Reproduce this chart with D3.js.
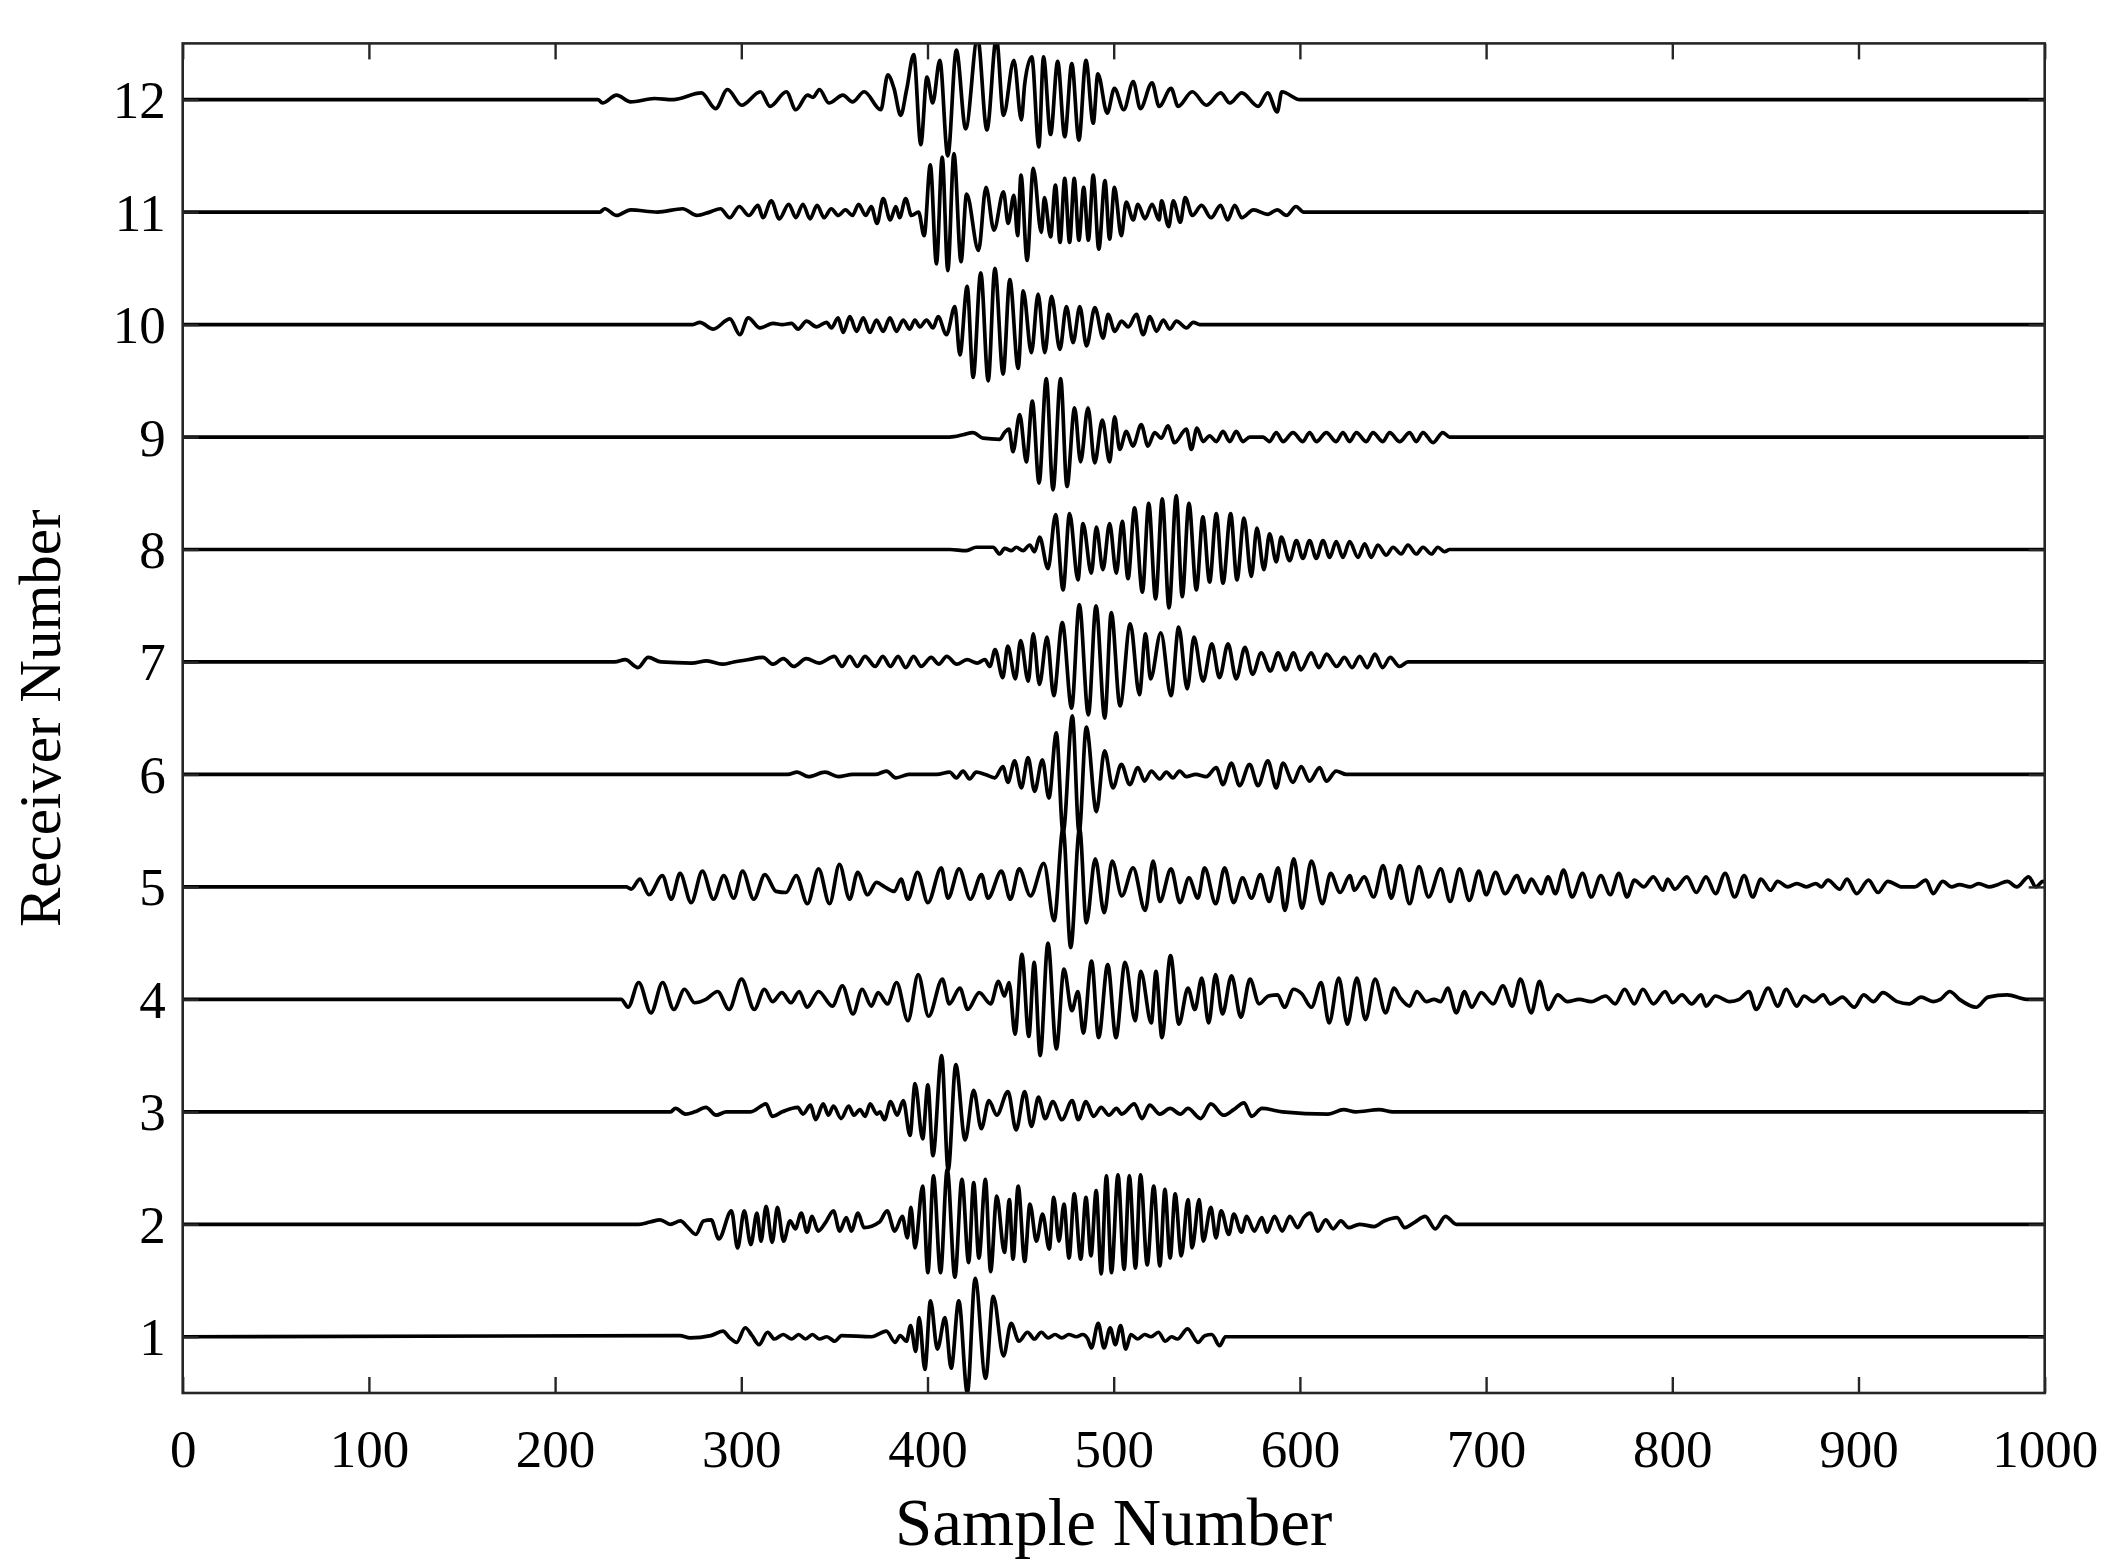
<!DOCTYPE html>
<html><head><meta charset="utf-8">
<script src="https://cdn.jsdelivr.net/npm/d3@7"></script>
<style>body{margin:0;background:#fff}svg{display:block}</style>
</head><body><svg id="c" width="2125" height="1568"></svg>
<script>
const receivers = [1,2,3,4,5,6,7,8,9,10,11,12];
const xTickValues = [0,100,200,300,400,500,600,700,800,900,1000];
const xLabel = "Sample Number";
const yLabel = "Receiver Number";

// each trace: [sample, amplitude (in receiver-spacing units)] at read extrema
const r1 = [[0,0],[267,0.01],[272.5,-0.01],[283.6,0.01],[290.1,0.05],[293.8,-0.01],[297.5,-0.05],[302.1,0.08],[305.8,0.01],[309.5,-0.07],[314.1,0.04],[317.8,-0.02],[322.5,0.02],[327.1,-0.02],[330.8,0.02],[334.5,-0.02],[338.2,0.02],[341.9,-0.02],[346,0],[350.2,-0.04],[353.9,0.01],[370,0],[377.9,0.05],[382.6,-0.05],[385.3,0.01],[388.7,-0.04],[390.9,0.10],[393.7,-0.13],[395.5,0.17],[398.6,-0.29],[401.6,0.32],[405.3,-0.11],[409.4,0.17],[412.7,-0.28],[416.8,0.32],[421.4,-0.50],[425.6,0.52],[431.2,-0.37],[435.3,0.36],[440.8,-0.17],[444.9,0.12],[449.1,-0.04],[453.7,0.04],[457.4,-0.02],[461.1,0.04],[464.8,-0.01],[468.5,0.02],[472.2,-0.01],[475.9,0.02],[480,0],[483.3,0.02],[486.1,-0.02],[488,-0.10],[491.7,0.12],[494.8,-0.10],[498.1,0.08],[500.9,-0.07],[503.7,0.10],[506.5,-0.11],[509.2,0.02],[512.9,-0.02],[516.6,0.02],[520,0],[524,0.04],[527.7,-0.04],[531,0],[534.2,-0.02],[539.7,0.07],[545.3,-0.05],[548.9,0.01],[552.7,0.02],[556.9,-0.08],[560,0],[1000,0]];
const r2 = [[0,0],[245,0],[250.9,0.02],[256.4,0.04],[261.9,0],[267.3,0.03],[271.4,-0.03],[275.6,-0.09],[279.7,0.03],[283.8,0.04],[287.9,-0.13],[294.7,0.12],[298,-0.21],[301.6,0.12],[305.1,-0.18],[308.4,0.10],[310.6,-0.15],[313.3,0.16],[316.6,-0.16],[319.4,0.15],[322.7,-0.15],[326.2,0.03],[329,-0.04],[332.2,0.10],[335.3,-0.07],[338,0.07],[341.3,-0.06],[345.4,0.02],[349.5,0.12],[352.8,-0.06],[356.4,0.06],[359.1,-0.06],[362.7,0.10],[365.9,-0.03],[374.2,0.02],[378.3,0.12],[382.4,-0.06],[386.5,0.07],[389.2,-0.12],[391.1,0.15],[393.3,-0.21],[397.4,0.34],[400.2,-0.43],[403.2,0.43],[407,-0.43],[410.6,0.49],[414.7,-0.47],[418.5,0.40],[422.1,-0.34],[424.8,0.37],[427.6,-0.30],[431.1,0.40],[433.9,-0.42],[437.2,0.25],[441.3,-0.25],[444,0.22],[445.9,-0.31],[448.7,0.34],[452.2,-0.33],[455,0.18],[458.5,-0.15],[461.8,0.09],[465.4,-0.22],[467.8,0.24],[470.6,-0.15],[473.3,0.18],[476,-0.30],[478.8,0.27],[482.3,-0.31],[485.1,0.24],[487.8,-0.28],[490.6,0.30],[493.3,-0.44],[496.1,0.43],[498.8,-0.43],[502.3,0.44],[505.6,-0.40],[508.4,0.43],[511.7,-0.39],[514.4,0.44],[518,-0.36],[521.5,0.34],[524.8,-0.37],[527.5,0.31],[530.3,-0.30],[533,0.27],[536.3,-0.28],[539.9,0.22],[542.1,-0.21],[545.9,0.22],[548.1,-0.15],[552.2,0.15],[554.9,-0.12],[557.7,0.12],[561.8,-0.09],[564.5,0.09],[568.6,-0.07],[571.4,0.07],[575.5,-0.06],[579.6,0.06],[582.3,-0.07],[586.4,0.07],[590.5,-0.06],[594.6,0.07],[598.8,-0.03],[602,0.06],[605.6,0.10],[609.7,-0.06],[613.8,0.04],[617.9,-0.04],[622,0.03],[626.2,-0.03],[632,0],[639.8,-0.02],[645.3,0.03],[652.2,0.06],[656.3,-0.03],[661.8,0.02],[667.3,0.07],[672.7,-0.04],[678.2,0.07],[684,0],[1000,0]];
const r3 = [[0,0],[262,0],[264.6,0.03],[270.1,-0.02],[275,0],[281,0.04],[286.5,-0.03],[292,0],[305,0],[313.3,0.07],[316.6,-0.04],[322,0],[330.3,0.04],[333.1,-0.02],[337.2,0.06],[339.9,-0.07],[344,0.07],[346.8,-0.03],[349.5,0.05],[353.6,-0.06],[357.7,0.05],[360.5,-0.03],[363.7,0.02],[366.5,-0.04],[369.2,0.07],[372.8,-0.02],[374.5,0],[376.9,-0.07],[380.2,0.09],[383.7,-0.03],[387,0.10],[390.6,-0.21],[393.3,0.25],[397.4,-0.24],[400.2,0.24],[402.9,-0.39],[407.6,0.50],[411.1,-0.52],[415.2,0.42],[420.2,-0.25],[424.8,0.19],[428.9,-0.15],[433,0.10],[437.2,-0.03],[443.2,0.18],[447.6,-0.16],[452.2,0.18],[455.8,-0.13],[459.6,0.13],[463.2,-0.06],[467.3,0.09],[472.2,-0.07],[477.7,0.10],[481,-0.07],[485.1,0.09],[489.2,-0.04],[493.3,0.04],[497.4,-0.03],[501.5,0.03],[504.3,-0.02],[511.1,0.07],[515.2,-0.06],[519.3,0.06],[524.8,-0.02],[530.3,0.03],[535.8,-0.02],[539.9,0.03],[546.7,-0.06],[552.2,0.07],[559,-0.03],[564.5,0.02],[570,0.08],[574.1,-0.04],[579.6,0.03],[590.5,0],[615.2,-0.02],[623.4,0.02],[630,0],[642.6,0.02],[650,0],[1000,0]];
const r4 = [[0,0],[235.5,0],[239.2,-0.07],[244.9,0.15],[251.5,-0.12],[257.7,0.15],[263.8,-0.09],[269.5,0.09],[274.9,-0.03],[281,0],[287.3,0.07],[293.4,-0.09],[300.1,0.18],[307,-0.09],[312.4,0.09],[316.8,-0.02],[321.8,0.06],[326.7,-0.03],[331.1,0.07],[335.3,-0.07],[341.5,0.07],[348.9,-0.06],[354.3,0.12],[360,-0.13],[364.9,0.09],[369.8,-0.06],[373.5,0.06],[378.5,-0.04],[383.4,0.15],[389.5,-0.19],[395,0.22],[400.6,-0.15],[408,0.18],[411.7,-0.04],[417.4,0.10],[421.6,-0.09],[427.8,0.06],[433.9,-0.04],[438.1,0.16],[441.3,0.03],[443.8,0.15],[447,-0.31],[450.7,0.40],[454.4,-0.33],[457.3,0.33],[460.5,-0.50],[464.7,0.50],[469.2,-0.44],[473.3,0.27],[477.5,-0.10],[480.8,0.07],[483.7,-0.30],[488.1,0.34],[491.9,-0.34],[496.8,0.31],[501.2,-0.34],[506.1,0.33],[511.6,-0.19],[514.5,0.25],[520.2,-0.21],[522.7,0.25],[525.9,-0.34],[530.5,0.39],[535,-0.22],[539.9,0.10],[543.6,-0.09],[547.3,0.19],[551,-0.21],[554.7,0.22],[558.4,-0.13],[563.3,0.21],[568.3,-0.16],[573.2,0.18],[578.1,-0.04],[583.1,0.03],[588,0.04],[591.7,-0.07],[596.6,0.09],[601,0.05],[606.2,-0.07],[611.4,0.15],[615.7,-0.21],[620.9,0.19],[625.5,-0.22],[630.6,0.19],[635.2,-0.18],[640.4,0.18],[646,-0.12],[650.6,0.10],[654,0.01],[658.9,-0.06],[662.7,0.07],[667.9,-0.02],[672,0],[675.6,-0.02],[679.4,0.10],[684,-0.12],[688.4,0.07],[692.2,-0.07],[697.4,0.06],[703.8,-0.04],[709,0.12],[714.1,-0.06],[718.4,0.18],[724.3,-0.12],[728.7,0.16],[733.3,-0.09],[738.5,0.04],[743.6,-0.02],[750,0],[756.4,-0.02],[764.2,0.03],[769.3,-0.04],[774.4,0.09],[779.6,-0.04],[784.2,0.09],[789.8,-0.04],[796.2,0.07],[800.1,-0.03],[805.2,0.04],[810.4,-0.04],[815.5,0.04],[818.1,-0.06],[823.2,0.03],[830.9,-0.02],[836,0],[841.2,0.07],[845,-0.09],[851.5,0.10],[856.6,-0.06],[861.2,0.09],[866.9,-0.06],[870.7,0.03],[875.9,-0.02],[881,0.04],[884.9,-0.04],[891.3,0.02],[897.7,-0.07],[902.8,0.04],[908,-0.02],[913.1,0.06],[920.8,-0.02],[927.2,-0.04],[933.6,0.02],[940.1,-0.02],[944,0],[949,0.07],[954.2,0],[963.2,-0.07],[969.6,0.02],[979.9,0.04],[990.2,0],[1000,0]];
const r5 = [[0,0],[238.4,0],[240.8,-0.02],[245.6,0.07],[250.4,-0.07],[257.6,0.10],[262.4,-0.11],[267.1,0.12],[273.1,-0.14],[279.1,0.14],[285.1,-0.11],[290.6,0.10],[295.9,-0.10],[300.7,0.14],[306.7,-0.11],[312.7,0.11],[318.7,-0.04],[324,-0.05],[329.5,0.10],[335.5,-0.15],[341.5,0.16],[347.4,-0.15],[352.7,0.20],[358.2,-0.11],[362.5,0.13],[367.8,-0.07],[372.6,0.04],[377,0],[382.2,-0.04],[385.8,0.07],[389.4,-0.11],[394.7,0.13],[400.2,-0.14],[407.4,0.17],[411,-0.10],[417,0.16],[423,-0.11],[429,0.11],[432.5,-0.10],[439.7,0.14],[444.5,-0.11],[449.3,0.16],[455.3,-0.08],[462.5,0.21],[468,-0.30],[472.8,0.52],[476.9,-0.54],[481.7,0.52],[485.3,-0.32],[490.1,0.25],[494.9,-0.23],[499.2,0.23],[504.4,-0.08],[510.4,0.17],[516.9,-0.21],[521.2,0.23],[524.8,-0.13],[530.8,0.16],[535.6,-0.14],[540.4,0.08],[545.2,-0.10],[548.8,0.17],[554.8,-0.15],[559.6,0.17],[564.4,-0.14],[569.2,0.08],[574,-0.10],[578.8,0.11],[583.5,-0.13],[588.3,0.17],[591.9,-0.21],[596.7,0.25],[601.1,-0.19],[606.2,0.23],[612.1,-0.15],[616.5,0.12],[621.6,-0.05],[626.8,0.10],[629.3,-0.03],[634.5,0.09],[639.6,-0.09],[644.7,0.19],[649.1,-0.10],[653.7,0.19],[658.9,-0.15],[664,0.18],[669.1,-0.09],[675.6,0.16],[680.7,-0.13],[685.8,0.16],[691,-0.12],[696.1,0.14],[700,-0.07],[705.1,0.13],[710.2,-0.06],[716.6,0.10],[720.5,-0.05],[724.3,0.07],[729.5,-0.06],[733.3,0.09],[737.2,-0.06],[741.6,0.15],[746.2,-0.09],[751.8,0.12],[756.5,-0.09],[761.6,0.10],[766.7,-0.07],[771.3,0.12],[775.7,-0.09],[779.6,0.06],[784.7,0],[789.8,0.09],[795,-0.03],[797.5,0.07],[801.4,-0.02],[807.8,0.09],[812.9,-0.05],[818.1,0.09],[823.2,-0.06],[828.4,0.12],[833.5,-0.09],[838.6,0.10],[843.2,-0.09],[847.6,0.07],[852.7,-0.03],[856.6,0.05],[862,0],[866.9,0.03],[872,0],[877.1,0.03],[880,0],[883.6,0.06],[890,-0.02],[893.8,0.07],[899,-0.06],[905.4,0.06],[910.5,-0.05],[915.7,0.05],[923.4,0],[930,0],[936.2,0.06],[940.1,-0.06],[945.2,0.05],[950,0],[954.2,0.02],[960,0],[964.5,0.03],[970,0],[974.7,0.02],[979.9,0.05],[985,0],[991.4,0.09],[995.3,0],[999.1,0.05],[1000,0.04]];
const r6 = [[0,0],[325,0],[330,0.02],[336,-0.02],[345,0.02],[352,-0.02],[360,0],[372,0],[378,0.03],[383,-0.03],[390,0],[405,0],[411.9,0.02],[415.5,-0.03],[419.1,0.03],[422.6,-0.04],[426.2,0.02],[431,0],[436.1,-0.03],[440.5,0.07],[443.2,-0.07],[446.8,0.12],[450.4,-0.12],[454,0.15],[457.5,-0.15],[461.7,0.13],[465.2,-0.21],[469.2,0.37],[472.8,-0.52],[477.8,0.52],[481.4,-0.52],[485.3,0.42],[490.7,-0.33],[495.1,0.21],[499.6,-0.12],[504.1,0.09],[508.6,-0.09],[513,0.06],[516.6,-0.06],[520.2,0.03],[524.7,-0.04],[528.3,0.02],[531.8,-0.03],[535.4,0.03],[539,-0.02],[544,0],[549.7,-0.02],[555.1,0.06],[558.7,-0.09],[563.2,0.10],[567.6,-0.10],[573,0.09],[577.5,-0.10],[582.8,0.12],[587.3,-0.12],[590.9,0.10],[596.3,-0.07],[600.7,0.07],[605.2,-0.06],[610.6,0.06],[614.2,-0.06],[619.5,0.03],[624.9,0],[1000,0]];
const r7 = [[0,0],[232,0],[237.7,0.02],[244.5,-0.05],[250,0.04],[256.9,0],[273.3,-0.01],[281.5,0.01],[289.7,-0.02],[296,0],[303.4,0.02],[311.6,0.04],[317.1,-0.02],[322.6,0.03],[328.1,-0.04],[334.9,0.03],[341.8,-0.01],[350,0.05],[354.1,-0.04],[358.2,0.05],[362.3,-0.04],[366.4,0.05],[371.9,-0.04],[376,0.05],[380.1,-0.04],[384.2,0.05],[388.3,-0.05],[392.5,0.05],[396.6,-0.04],[402,0.04],[406.1,-0.02],[410.3,0.05],[415.7,-0.02],[421.2,0.02],[426.7,-0.01],[430.8,0.02],[433.5,-0.04],[436.3,0.11],[440.4,-0.14],[443.1,0.14],[447.2,-0.15],[450,0.19],[454.1,-0.17],[456.8,0.25],[460.1,-0.20],[464.2,0.22],[467.8,-0.30],[472.4,0.35],[477.4,-0.41],[481.5,0.51],[486.4,-0.47],[490.5,0.50],[495.2,-0.50],[498.7,0.44],[503.4,-0.39],[508.9,0.34],[513.8,-0.29],[517.1,0.25],[519.8,-0.15],[525.3,0.26],[530.8,-0.30],[534.9,0.31],[539.5,-0.24],[543.1,0.22],[548,-0.17],[552.7,0.16],[556.8,-0.14],[561.4,0.16],[565.8,-0.15],[570.5,0.13],[574.6,-0.11],[579.2,0.08],[584.2,-0.08],[588.3,0.08],[592.4,-0.07],[596.5,0.08],[600.6,-0.07],[606.1,0.08],[610.2,-0.05],[614.3,0.07],[619.8,-0.04],[623.9,0.04],[628,-0.05],[632.1,0.05],[636.2,-0.05],[640.3,0.07],[644.4,-0.05],[648.5,0.04],[653.5,-0.04],[658,0],[1000,0]];
const r8 = [[0,0],[412,0],[420.9,-0.01],[426.2,0.02],[435.2,0.02],[438.8,-0.04],[441.4,0.01],[445,-0.01],[447.7,0.02],[451.3,-0.01],[454.9,0.04],[457.5,-0.02],[460.2,0.11],[464.7,-0.17],[468.8,0.31],[472.8,-0.36],[476.3,0.32],[480.8,-0.27],[483.5,0.23],[488,-0.21],[490.7,0.20],[494.2,-0.18],[497.8,0.23],[501.4,-0.21],[504.6,0.25],[507.7,-0.26],[511.2,0.37],[515.4,-0.38],[518.8,0.41],[522.5,-0.44],[526.1,0.45],[529.7,-0.52],[533.6,0.48],[536.8,-0.42],[540.4,0.41],[544.4,-0.36],[547.9,0.29],[551.5,-0.29],[555.1,0.32],[558.7,-0.30],[562.8,0.32],[566.2,-0.27],[570,0.28],[573.9,-0.24],[576.9,0.19],[580.7,-0.18],[583.7,0.14],[587.3,-0.11],[590,0.11],[594.5,-0.10],[598.1,0.08],[601.6,-0.08],[605.2,0.08],[608.8,-0.08],[612.4,0.08],[616,-0.07],[619.5,0.07],[623.1,-0.07],[626.7,0.07],[631.2,-0.07],[634.8,0.05],[638.3,-0.07],[641.9,0.04],[646.4,-0.05],[650,0.02],[654.4,-0.04],[658,0.04],[662.5,-0.04],[666.1,0.02],[670.6,-0.04],[674.1,0.02],[677.7,-0.02],[680.4,0],[1000,0]];
const r9 = [[0,0],[412,0],[419.1,0.02],[424.4,0.04],[429.8,-0.01],[438.8,-0.02],[441.4,0.04],[443.8,0.07],[445.9,-0.13],[449.5,0.20],[453.1,-0.22],[456.3,0.32],[459.9,-0.41],[463.8,0.52],[467.4,-0.47],[471.5,0.52],[474.9,-0.44],[479,0.26],[482.2,-0.22],[486.2,0.26],[489.8,-0.23],[493.9,0.15],[497.8,-0.22],[500.5,0.18],[503.2,-0.11],[506.8,0.05],[510.3,-0.08],[514.8,0.11],[518.4,-0.08],[522,0.04],[525.6,-0.01],[529.1,0.10],[532.7,-0.05],[539,0.07],[541.7,-0.11],[544.7,0.08],[548,-0.04],[551.5,0.01],[555.1,-0.04],[558.7,0.05],[562.3,-0.04],[565.8,0.05],[569.4,-0.04],[573,0],[580.2,0],[583.7,-0.04],[587.3,0.04],[590.9,-0.04],[596.3,0.04],[601.6,-0.04],[605.2,0.04],[608.8,-0.04],[614.2,0.04],[619.5,-0.04],[623.1,0.04],[626.7,-0.04],[630.3,0.04],[635.7,-0.04],[639.2,0.04],[644.6,-0.04],[648.2,0.04],[653.6,-0.04],[658.9,0.04],[662.5,-0.04],[666.1,0.04],[671.5,-0.05],[676.8,0.04],[680.4,0],[1000,0]];
const r10 = [[0,0],[274,0],[277.7,0.02],[284.9,-0.04],[293.9,0.05],[299.2,-0.09],[303.7,0.06],[310,-0.03],[317.1,0.01],[322,0],[327,0.01],[330.5,-0.04],[335,0.03],[340.4,-0.02],[345.8,0.02],[348.4,-0.03],[352,0.06],[354.7,-0.07],[358.3,0.07],[361.9,-0.06],[365.5,0.06],[369,-0.07],[372.6,0.04],[376.2,-0.06],[379.8,0.06],[383.4,-0.06],[386.9,0.04],[390.5,-0.04],[393.2,0.04],[395.9,-0.02],[399.5,0.04],[403,-0.03],[405.7,0.07],[410.2,-0.09],[414.7,0.16],[417.4,-0.27],[421.3,0.34],[424.5,-0.47],[428.6,0.46],[432.6,-0.50],[436.2,0.50],[440.6,-0.44],[444.2,0.40],[448.7,-0.39],[451.4,0.30],[455.8,-0.25],[459.4,0.27],[463,-0.25],[466.6,0.25],[471.1,-0.22],[474.6,0.16],[478.2,-0.16],[481.8,0.16],[485.4,-0.19],[489.9,0.15],[494.3,-0.12],[497,0.09],[500.6,-0.06],[504.2,0.03],[507.8,-0.02],[512.2,0.09],[515.8,-0.09],[519.4,0.07],[523,-0.06],[526.6,0.04],[530.1,-0.04],[533.7,0.03],[539.1,-0.03],[542.7,0.02],[546.2,0],[1000,0]];
const r11 = [[0,0],[224,0],[226.7,0.03],[233,-0.03],[240.6,0.02],[255,0],[268.5,0.03],[276.1,-0.03],[283,0],[288.8,0.03],[293.8,-0.05],[298.9,0.05],[304,-0.03],[309,0.06],[311.6,-0.05],[316.1,0.10],[320.4,-0.06],[325.5,0.07],[329.3,-0.05],[333.1,0.07],[336.9,-0.06],[340.7,0.06],[344.5,-0.05],[348.3,0.03],[352.1,-0.03],[355.9,0.02],[359.7,-0.03],[363,0.07],[366.8,-0.03],[369.8,0.05],[372.9,-0.10],[376.2,0.12],[380,-0.07],[383,0.05],[385,-0.05],[388.3,0.12],[391.4,-0.03],[395.2,0],[398.2,-0.21],[401.5,0.42],[404.8,-0.46],[407.9,0.49],[410.9,-0.52],[414.2,0.52],[418,-0.44],[421,0.16],[427.4,-0.34],[431.4,0.22],[435.7,-0.16],[440.8,0.18],[443.3,-0.10],[446.4,0.15],[448.4,-0.21],[450.2,0.33],[453.5,-0.43],[456.8,0.39],[461.1,-0.18],[462.8,0.13],[466.1,-0.22],[468.7,0.24],[471.2,-0.27],[473.7,0.30],[476.3,-0.27],[478.8,0.30],[481.3,-0.25],[483.9,0.22],[486.4,-0.25],[489,0.33],[492,-0.33],[495.3,0.28],[497.8,-0.24],[500.4,0.22],[504.1,-0.21],[506.7,0.09],[510.5,-0.07],[513,0.07],[516.8,-0.06],[520.6,0.07],[524.4,-0.07],[525.7,0.10],[529.5,-0.13],[532,0.10],[535.8,-0.09],[538.4,0.13],[542.2,-0.03],[547.2,0.06],[552.3,-0.05],[557.4,0.06],[561.2,-0.07],[565,0.06],[568.8,-0.05],[575.1,0.02],[582.7,-0.02],[587.8,0.02],[592.8,-0.03],[597.9,0.05],[602,0],[1000,0]];
const r12 = [[0,0],[223,0],[225.4,-0.03],[233,0.04],[240.6,-0.02],[253.3,0.01],[263.4,0],[278.6,0.06],[286.2,-0.08],[292.6,0.09],[300.2,-0.05],[310.3,0.07],[315.4,-0.06],[324.2,0.07],[329.3,-0.09],[335.6,0.04],[338.5,0.02],[342,0.09],[347,-0.03],[354.6,0.04],[359.7,-0.02],[366,0.07],[374.9,-0.09],[378.7,0.22],[382,0.10],[385.6,-0.14],[388.8,0.09],[392.6,0.40],[396.4,-0.40],[399.7,0.20],[402.8,-0.03],[406.6,0.35],[410.9,-0.50],[415.5,0.44],[420.5,-0.26],[426.9,0.55],[431.9,-0.27],[437,0.55],[440.8,-0.14],[446.4,0.35],[450.4,-0.18],[452.2,0.14],[456,0.38],[459.8,-0.42],[462.3,0.38],[466.1,-0.31],[469.9,0.34],[473.7,-0.33],[477.5,0.32],[481.3,-0.36],[485.1,0.35],[489,-0.21],[491.5,0.23],[496.5,-0.12],[500.4,0.10],[505.4,-0.09],[510.5,0.16],[514.3,-0.08],[520.6,0.15],[524.4,-0.06],[530.8,0.10],[534.6,-0.06],[542.2,0.07],[549.8,-0.05],[557.4,0.06],[562.4,-0.03],[568.8,0.06],[577.6,-0.06],[582.7,0.06],[587.8,-0.11],[590.3,0.07],[600,0],[1000,0]];

const traces = [r1,r2,r3,r4,r5,r6,r7,r8,r9,r10,r11,r12];

const m = {left:182.7, right:2044.7, top:43.4, bottom:1393};
const svg = d3.select("#c");
const x = d3.scaleLinear().domain([0,1000]).range([m.left, m.right]);
const y = d3.scaleLinear().domain([0.5,12.5]).range([m.bottom, m.top]);
const axisColor = "#262626";
const tickFont = "Liberation Serif, Times New Roman, serif";

svg.append("defs").append("clipPath").attr("id","clip")
  .append("rect").attr("x",m.left).attr("y",m.top)
  .attr("width",m.right-m.left).attr("height",m.bottom-m.top);

const g = svg.append("g").attr("clip-path","url(#clip)");
const line = d3.line().curve(d3.curveMonotoneX);
traces.forEach((tr,i)=>{
  const rec = receivers[i];
  g.append("path")
    .attr("d", line.x(d=>x(d[0])).y(d=>y(rec + d[1]))(tr))
    .attr("fill","none").attr("stroke","#000")
    .attr("stroke-width",3.7).attr("stroke-linejoin","round");
});

const TL = 16;
function styleAxis(sel){
  sel.select(".domain").remove();
  sel.selectAll(".tick line").attr("stroke",axisColor).attr("stroke-width",2.4);
  sel.selectAll(".tick text").attr("fill","#000").style("font-family",tickFont).style("font-size","53px");
}
const gb = svg.append("g").attr("transform",`translate(0,${m.bottom})`)
  .call(d3.axisBottom(x).tickValues(xTickValues).tickSize(-TL).tickFormat(d3.format("d")));
styleAxis(gb);
gb.selectAll(".tick text").attr("y",74).attr("dy",0);
const gt = svg.append("g").attr("transform",`translate(0,${m.top})`)
  .call(d3.axisTop(x).tickValues(xTickValues).tickSize(-TL).tickFormat(""));
styleAxis(gt);
const gl = svg.append("g").attr("transform",`translate(${m.left},0)`)
  .call(d3.axisLeft(y).tickValues(receivers).tickSize(-TL).tickPadding(17).tickFormat(d3.format("d")));
styleAxis(gl);
gl.selectAll(".tick text").attr("dy","0.34em");
const gr = svg.append("g").attr("transform",`translate(${m.right},0)`)
  .call(d3.axisRight(y).tickValues(receivers).tickSize(-TL).tickFormat(""));
styleAxis(gr);

svg.append("rect").attr("x",m.left).attr("y",m.top)
  .attr("width",m.right-m.left).attr("height",m.bottom-m.top)
  .attr("fill","none").attr("stroke",axisColor).attr("stroke-width",2.6);

svg.append("text").attr("x",(m.left+m.right)/2).attr("y",1545)
  .attr("text-anchor","middle").style("font-family",tickFont).style("font-size","67px")
  .attr("fill","#000").text(xLabel);
svg.append("text").attr("transform",`translate(60,${(m.top+m.bottom)/2}) rotate(-90)`)
  .attr("text-anchor","middle").style("font-family",tickFont).style("font-size","59px")
  .attr("fill","#000").text(yLabel);
</script></body></html>
